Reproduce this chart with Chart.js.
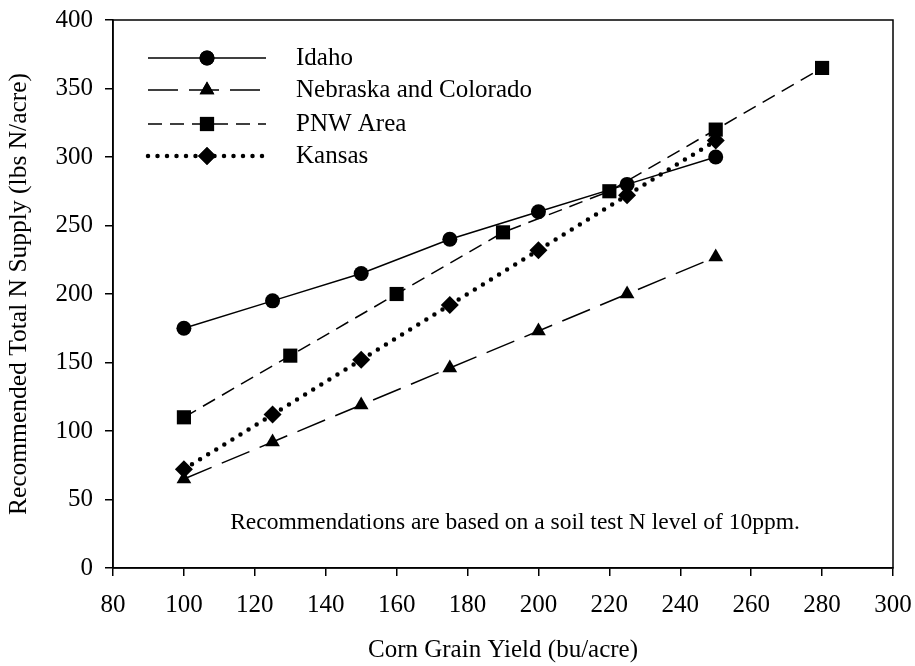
<!DOCTYPE html>
<html>
<head>
<meta charset="utf-8">
<script src="https://cdn.jsdelivr.net/npm/chart.js@4/dist/chart.umd.min.js"></script>
<style>
  html, body { margin: 0; padding: 0; background: #fff; }
  #wrap { width: 915px; height: 666px; }
</style>
</head>
<body>
<div id="wrap"><canvas id="chart" width="915" height="666"></canvas></div>
<script>
// Data
const idahoX = [100, 125, 150, 175, 200, 225, 250];
const idahoY = [175, 195, 215, 240, 260, 280, 300];
const nebraskaX = [100, 125, 150, 175, 200, 225, 250];
const nebraskaY = [65, 92, 119, 146, 173, 200, 227];
const pnwX = [100, 130, 160, 190, 220, 250, 280];
const pnwY = [110, 155, 200, 245, 275, 320, 365];
const kansasX = [100, 125, 150, 175, 200, 225, 250];
const kansasY = [72, 112, 152, 192, 232, 272, 312];
const seriesNames = ['Idaho', 'Nebraska and Colorado', 'PNW Area', 'Kansas'];
const noteText = 'Recommendations are based on a soil test N level of 10ppm.';

const FONT = '"Liberation Serif", "Times New Roman", serif';
const toPts = (xs, ys) => xs.map((x, i) => ({ x: x, y: ys[i] }));

const styles = [
  { pointStyle: 'circle', pointRadius: 7.5, borderDash: [], borderWidth: 1.5, cap: 'butt' },
  { pointStyle: 'triangle', pointRadius: 8.5, borderDash: [30, 11], borderWidth: 1.5, cap: 'butt' },
  { pointStyle: 'rect', pointRadius: 10, borderDash: [14, 8], borderWidth: 1.5, cap: 'butt' },
  { pointStyle: 'rectRot', pointRadius: 9, borderDash: [0, 9.5], borderWidth: 4.5, cap: 'round' }
];
const allData = [toPts(idahoX, idahoY), toPts(nebraskaX, nebraskaY), toPts(pnwX, pnwY), toPts(kansasX, kansasY)];

const datasets = allData.map((d, i) => ({
  label: seriesNames[i],
  data: d,
  borderColor: '#000',
  backgroundColor: '#000',
  borderWidth: styles[i].borderWidth,
  borderDash: styles[i].borderDash,
  borderCapStyle: styles[i].cap,
  pointStyle: styles[i].pointStyle,
  pointRadius: styles[i].pointRadius,
  pointBorderWidth: 0,
  pointBackgroundColor: '#000',
  tension: 0
}));

// scales should not push the plot area in for label overhang
function noOverhang(s) {
  s.paddingTop = 0; s.paddingBottom = 0; s.paddingLeft = 0; s.paddingRight = 0;
}

// Frame, legend and note
const extras = {
  id: 'extras',
  afterDraw(chart) {
    const ctx = chart.ctx;
    const a = chart.chartArea;
    ctx.save();
    ctx.strokeStyle = '#000';
    ctx.lineWidth = 1.5;
    ctx.strokeRect(a.left, a.top, a.right - a.left, a.bottom - a.top);

    // legend
    const rows = [58, 90, 124, 156];
    rows.forEach((y, i) => {
      const st = styles[i];
      ctx.save();
      ctx.lineWidth = st.borderWidth;
      ctx.setLineDash(st.borderDash);
      ctx.lineCap = st.cap;
      ctx.beginPath();
      ctx.moveTo(148, y);
      ctx.lineTo(266, y);
      ctx.stroke();
      ctx.restore();
      ctx.fillStyle = '#000';
      Chart.helpers.drawPoint(ctx, { pointStyle: st.pointStyle, radius: st.pointRadius, rotation: 0, borderWidth: 0 }, 207, y);
      ctx.fill();
      ctx.font = '25px ' + FONT;
      ctx.textAlign = 'left';
      ctx.textBaseline = 'middle';
      ctx.fillText(seriesNames[i], 296, y);
    });

    // note
    ctx.font = '23.5px ' + FONT;
    ctx.textAlign = 'center';
    ctx.textBaseline = 'middle';
    ctx.fillText(noteText, 515, 523);
    ctx.restore();
  }
};

new Chart(document.getElementById('chart'), {
  type: 'line',
  data: { datasets: datasets },
  options: {
    responsive: false,
    animation: false,
    layout: { padding: { left: 0, top: 20, right: 22, bottom: 0 } },
    plugins: { legend: { display: false }, tooltip: { enabled: false } },
    scales: {
      x: {
        type: 'linear', min: 80, max: 300,
        afterFit: (s) => { s.height = 98; noOverhang(s); },
        ticks: { stepSize: 20, color: '#000', padding: 14, font: { family: FONT, size: 25 } },
        grid: { drawOnChartArea: false, tickLength: 8, color: '#000', lineWidth: 1.5 },
        border: { color: '#000', width: 1.5 },
        title: { display: true, text: 'Corn Grain Yield (bu/acre)', color: '#000',
          font: { family: FONT, size: 25, lineHeight: 1.2 }, padding: { top: 0, bottom: 1 } }
      },
      y: {
        type: 'linear', min: 0, max: 400,
        afterFit: (s) => { s.width = 113; noOverhang(s); },
        ticks: { stepSize: 50, color: '#000', padding: 12, font: { family: FONT, size: 25 } },
        grid: { drawOnChartArea: false, tickLength: 8, color: '#000', lineWidth: 1.5 },
        border: { color: '#000', width: 1.5 },
        title: { display: true, text: 'Recommended Total N Supply (lbs N/acre)', color: '#000',
          font: { family: FONT, size: 25.5, lineHeight: 1.2 }, padding: { top: 4, bottom: 0 } }
      }
    }
  },
  plugins: [extras]
});
</script>
</body>
</html>
